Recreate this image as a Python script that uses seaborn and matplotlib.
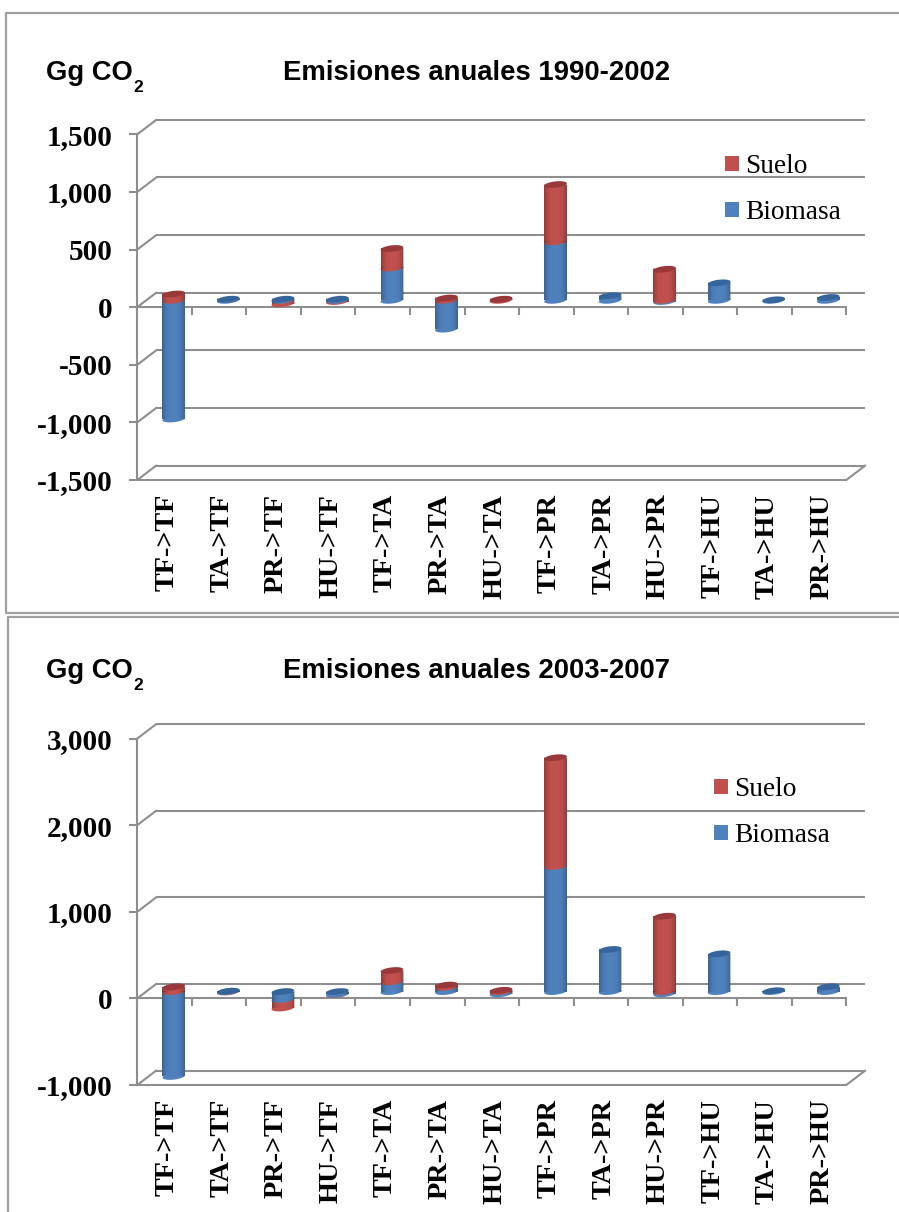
import numpy as np
import seaborn as sns
import matplotlib
matplotlib.use("Agg")
import matplotlib.pyplot as plt
from matplotlib.lines import Line2D
from matplotlib.patches import Patch, Polygon

W, H = 899, 1212

categorias = ["TF->TF", "TA->TF", "PR->TF", "HU->TF", "TF->TA", "PR->TA", "HU->TA",
              "TF->PR", "TA->PR", "HU->PR", "TF->HU", "TA->HU", "PR->HU"]

# Gg CO2
biomasa_90 = [-1030, 10, 10, 10, 280, -250, 0, 508, 40, -10, 152, 5, 25]
suelo_90 = [55, 0, -30, -10, 170, 20, 10, 497, 0, 270, 0, 0, 0]
biomasa_03 = [-980, 5, -90, -30, 113, 50, -25, 1445, 486, -25, 436, 10, 55]
suelo_03 = [55, -5, -100, -3, 130, 25, 15, 1255, 0, 870, 0, 0, 0]

ticks_90 = [-1500, -1000, -500, 0, 500, 1000, 1500]
ticklabels_90 = ["-1,500", "-1,000", "-500", "0", "500", "1,000", "1,500"]
ticks_03 = [-1000, 0, 1000, 2000, 3000]
ticklabels_03 = ["-1,000", "0", "1,000", "2,000", "3,000"]

AZUL = "#4F81BD"
ROJO = "#C0504D"
AZUL_OSC = "#35659B"
ROJO_OSC = "#98383A"
GRIS = "#8E8E8E"
SERIF = "Liberation Serif"
SANS = "Liberation Sans"
BAR_W = 0.415

sns.set_theme(style="white")
plt.rcParams["font.family"] = [SERIF, "DejaVu Serif"]

fig = plt.figure(figsize=(W / 100, H / 100), dpi=100)
fig.patch.set_facecolor("white")


def tapa(ax, xc, yc, color, cap_h, zorder):
    # flat tilted ellipse for the end of a cylinder
    t = np.linspace(0, 2 * np.pi, 60)
    xs = xc + BAR_W / 2 * np.cos(t)
    ys = yc + cap_h * (0.42 * np.sin(t) + 0.16 * np.cos(t))
    ax.add_patch(Polygon(np.column_stack([xs, ys]), closed=True, fc=color, ec="none",
                         zorder=zorder, clip_on=False))


def segmentos(b, s):
    out = []
    if b != 0:
        out.append((min(b, 0), max(b, 0), AZUL, AZUL_OSC))
    if s > 0:
        base = max(b, 0)
        out.append((base, base + s, ROJO, ROJO_OSC))
    elif s < 0:
        base = min(b, 0)
        out.append((base + s, base, ROJO, ROJO_OSC))
    return sorted(out)


def panel(top_px, bottom_px, biomasa, suelo, ticks, ticklabels, titulo, title_base, leg_xy):
    left_px, right_px = 137.3, 846.3
    ax = fig.add_axes([left_px / W, 1 - bottom_px / H,
                       (right_px - left_px) / W, (bottom_px - top_px) / H])
    ax.set_facecolor("none")
    ymin, ymax = ticks[0], ticks[-1]
    u_px = (ymax - ymin) / (bottom_px - top_px)  # data units per pixel
    x_px = 13 / (right_px - left_px)

    back_x, back_y = 19 * x_px, 14.5 * u_px
    mid_x, mid_y = 9.2 * x_px, 6.8 * u_px
    cap_h = 7.5 * u_px

    # back wall, left wall and floor
    for v in ticks:
        ax.plot([-0.5 + back_x, 12.5 + back_x], [v + back_y, v + back_y], color=GRIS,
                lw=1.5, clip_on=False, zorder=1, solid_capstyle="butt")
        ax.plot([-0.5, -0.5 + back_x], [v, v + back_y], color=GRIS, lw=1.5, clip_on=False, zorder=1)
    ax.plot([-0.5, 12.5, 12.5 + back_x], [ymin, ymin, ymin + back_y], color=GRIS, lw=1.5,
            clip_on=False, zorder=1)

    # cylinders: stacked from the zero line, shifted to the middle of the depth
    biomasa = np.array(biomasa, dtype=float)
    suelo = np.array(suelo, dtype=float)
    base = np.where(suelo >= 0, np.maximum(biomasa, 0), np.minimum(biomasa, 0))
    xpos = np.arange(13) + mid_x
    sns.barplot(x=xpos, y=base + suelo, bottom=mid_y, color=ROJO, saturation=1, width=BAR_W,
                native_scale=True, errorbar=None, ax=ax, zorder=3, linewidth=0, edgecolor="none")
    sns.barplot(x=xpos, y=biomasa, bottom=mid_y, color=AZUL, saturation=1, width=BAR_W,
                native_scale=True, errorbar=None, ax=ax, zorder=3, linewidth=0, edgecolor="none")

    grad = np.zeros((1, 40, 4))
    grad[0, :, 3] = 0.25 * np.abs(np.linspace(-1, 1, 40)) ** 3
    for x, b, s in zip(xpos, biomasa, suelo):
        segs = segmentos(b, s)
        if not segs:
            continue
        tapa(ax, x, segs[0][0] + mid_y, segs[0][2], cap_h, 2.5)
        for lo, hi, col, _ in segs[1:]:
            tapa(ax, x, lo + mid_y, col, cap_h, 3.2)
        for lo, hi, _, _ in segs:
            ax.imshow(grad, extent=(x - BAR_W / 2, x + BAR_W / 2, lo + mid_y, hi + mid_y),
                      aspect="auto", zorder=3.5, interpolation="bilinear")
        tapa(ax, x, segs[-1][1] + mid_y, segs[-1][3], cap_h, 4)

    ax.set_xlim(-0.5, 12.5)
    ax.set_ylim(ymin, ymax)
    ax.set(xlabel="", ylabel="")
    ax.grid(False)

    for side in ["top", "right"]:
        ax.spines[side].set_visible(False)
    ax.spines["left"].set_color(GRIS)
    ax.spines["left"].set_linewidth(1.5)
    ax.spines["bottom"].set_position(("data", 0))
    ax.spines["bottom"].set_color(GRIS)
    ax.spines["bottom"].set_linewidth(1.5)
    ax.spines["bottom"].set_zorder(2)

    ax.set_yticks(ticks, labels=ticklabels, fontsize=21, fontweight="bold", color="black")
    ax.tick_params(axis="y", left=True, length=6, width=1.5, color=GRIS, pad=12)
    ax.set_xticks(np.arange(14) - 0.5, labels=[])
    ax.tick_params(axis="x", bottom=True, length=6, width=1.5, color=GRIS)

    sec = ax.secondary_xaxis("bottom")
    sec.set_xticks(np.arange(13) + 0.05, labels=categorias, rotation=90, fontsize=20.3,
                   fontweight="bold", color="black")
    sec.tick_params(length=0, pad=10)
    sec.spines["bottom"].set_visible(False)

    handles = [Patch(fc=ROJO, ec="none"), Patch(fc=AZUL, ec="none")]
    ax.legend(handles, ["Suelo", "Biomasa"], loc="upper left", frameon=False,
              bbox_to_anchor=((leg_xy[0] - left_px) / (right_px - left_px),
                              1 - (leg_xy[1] - top_px) / (bottom_px - top_px)),
              borderpad=0, borderaxespad=0, handlelength=0.51, handleheight=0.45,
              handletextpad=0.22, labelspacing=0.78, labelcolor="black",
              prop={"family": SERIF, "size": 19.7})

    fig.text(46 / W, 1 - title_base / H, "Gg CO", family=SANS, weight="bold",
             fontsize=19.7, color="black", va="baseline")
    fig.text(133 / W, 1 - (title_base + 11.5) / H, "2", family=SANS, weight="bold",
             fontsize=12.5, color="black", va="baseline")
    fig.text(283 / W, 1 - title_base / H, titulo, family=SANS, weight="bold", fontsize=19.8,
             color="black", va="baseline")
    return ax


panel(134.3, 480.0, biomasa_90, suelo_90, ticks_90, ticklabels_90,
      "Emisiones anuales 1990-2002", 80, (725, 154))
panel(738.5, 1085.0, biomasa_03, suelo_03, ticks_03, ticklabels_03,
      "Emisiones anuales 2003-2007", 678, (714, 777))

# the two slide frames
for xs, ys in [([900, 6, 6, 900], [12.6, 12.6, 613.3, 613.3]),
               ([900, 8, 8], [616.7, 616.7, 1213])]:
    fig.add_artist(Line2D(np.array(xs) / W, 1 - np.array(ys) / H, color="#A0A0A0", lw=1.6,
                          transform=fig.transFigure))

fig.savefig("out.png", dpi=100)
